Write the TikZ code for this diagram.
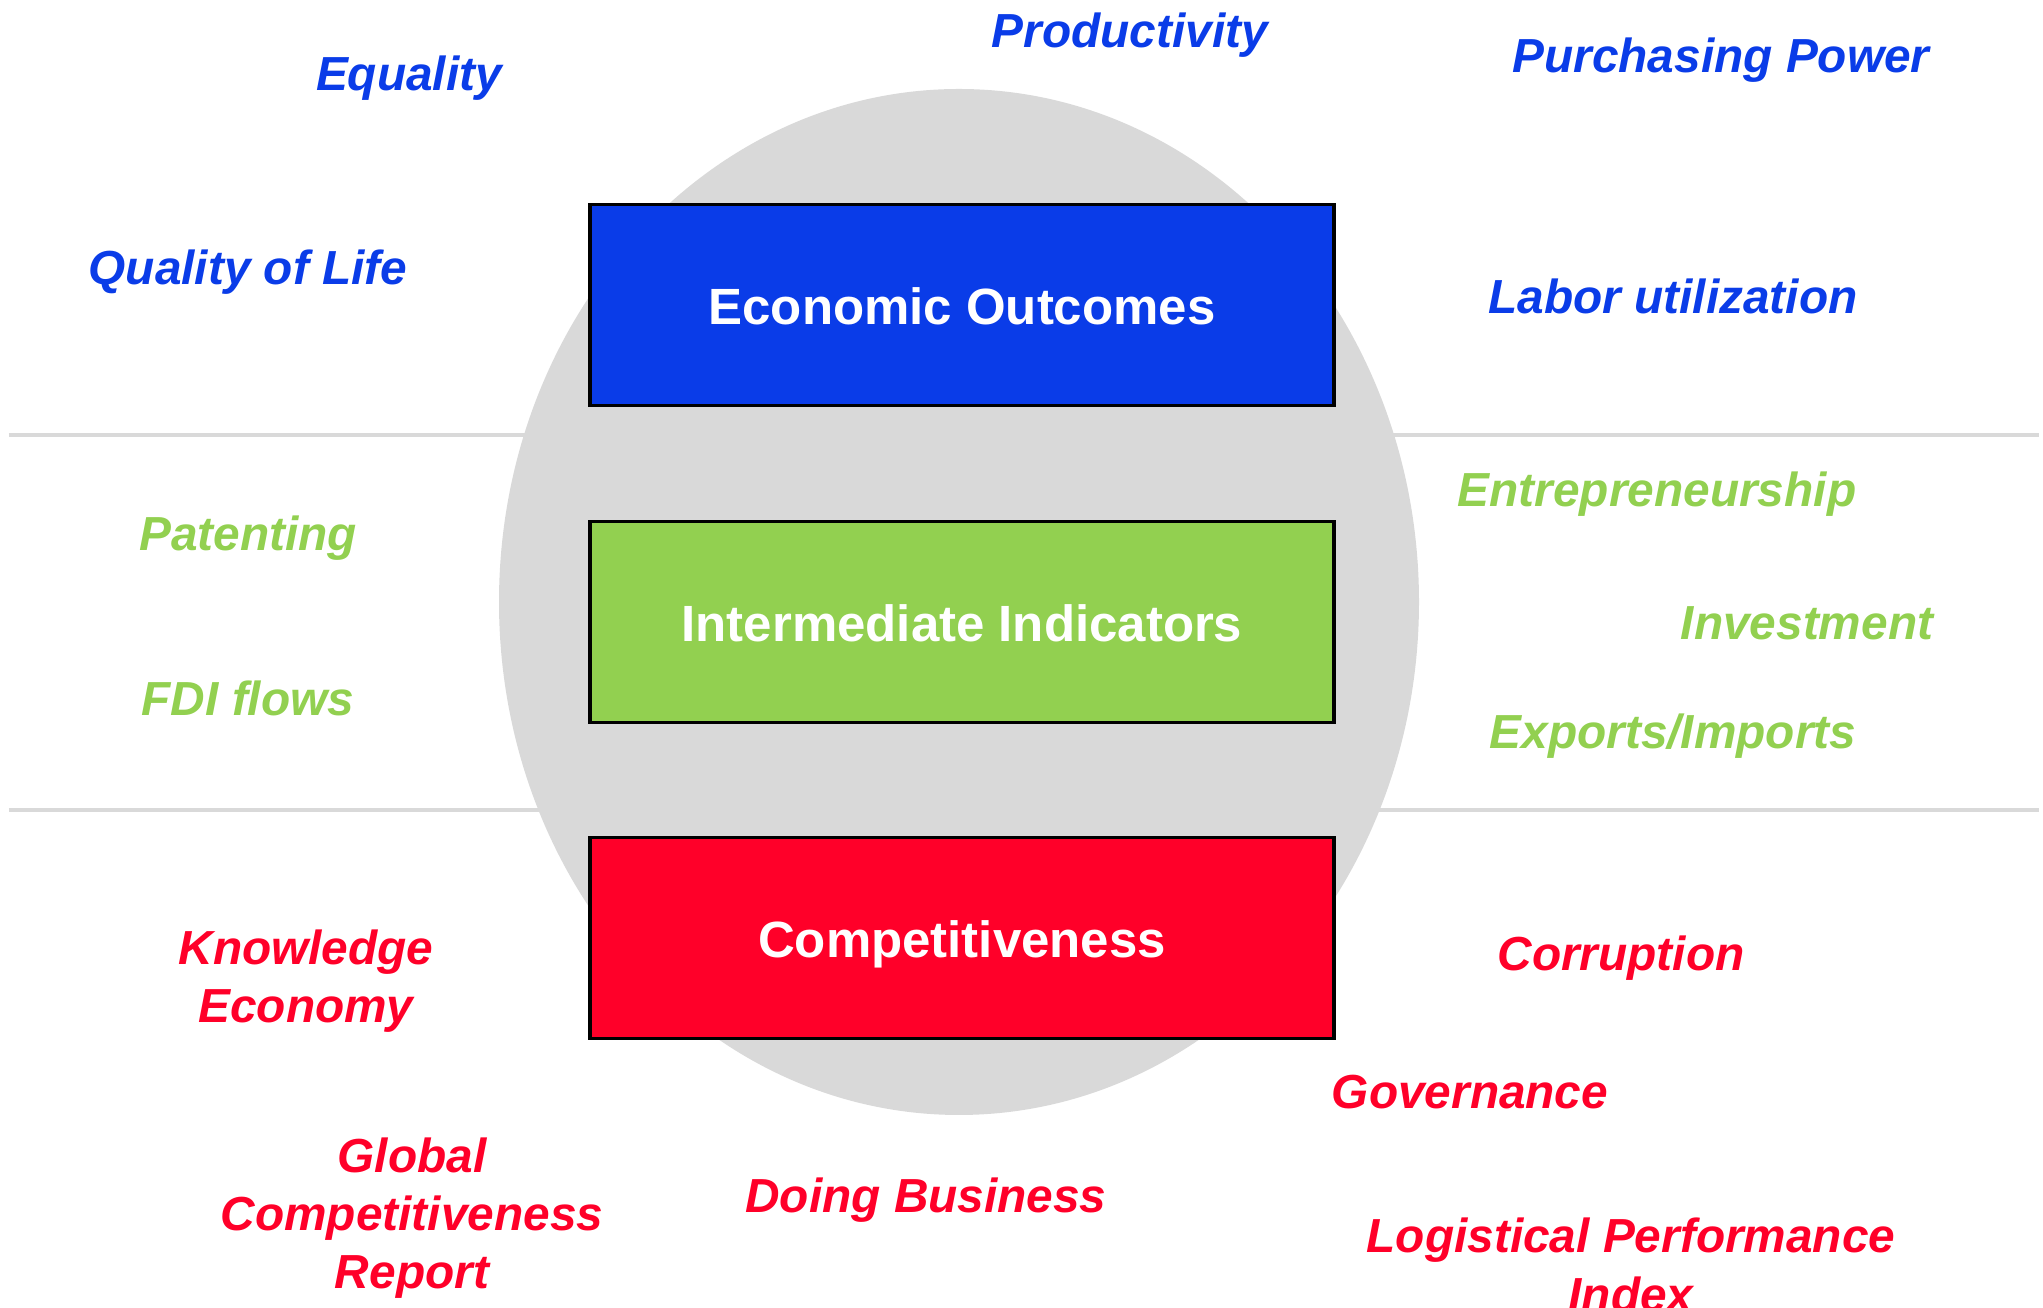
\documentclass[tikz,border=0pt]{standalone}
\usepackage{fontspec}
\setmainfont{Liberation Sans}

\definecolor{eoblue}{HTML}{0A3CE8}
\definecolor{iigreen}{HTML}{92D050}
\definecolor{cred}{HTML}{FF0029}
\definecolor{ringgray}{HTML}{D9D9D9}

\tikzset{
    tier/.style={draw=black, line width=1pt, minimum width=7.44cm, minimum height=2.01cm,
        text height=0.5cm, text depth=0.1cm,
        text=white, font=\bfseries\fontsize{14.5}{17}\selectfont},
    term/.style={font=\bfseries\itshape\fontsize{13.6}{16.6}\selectfont, align=center},
}

\begin{document}
\begin{tikzpicture}
            \useasboundingbox (0,0) rectangle (20.43,13.08);

            % tier separators, the ellipse covers their middle
            \draw[ringgray, line width=0.9pt] (0.09,8.73) -- (20.39,8.73);
            \draw[ringgray, line width=0.9pt] (0.09,4.98) -- (20.39,4.98);
            \fill[ringgray] (9.59,7.06) ellipse (4.60 and 5.13);

            \node[tier, fill=eoblue] (outcomes) at (9.62,10.03) {Economic Outcomes};
            \node[tier, fill=iigreen] (intermediate) at (9.62,6.86) {Intermediate Indicators};
            \node[tier, fill=cred] (competitiveness) at (9.62,3.70) {Competitiveness};

            % outcome measures
            \node[term, text=eoblue] (equality) at (4.09,12.30) {Equality};
            \node[term, text=eoblue] (productivity) at (11.30,12.73) {Productivity};
            \node[term, text=eoblue] (purchasing) at (17.21,12.48) {Purchasing Power};
            \node[term, text=eoblue] (quality) at (2.48,10.36) {Quality of Life};
            \node[term, text=eoblue] (labor) at (16.73,10.12) {Labor utilization};

            % intermediate measures
            \node[term, text=iigreen] (entrepreneurship) at (16.57,8.14) {Entrepreneurship};
            \node[term, text=iigreen] (patenting) at (2.48,7.70) {Patenting};
            \node[term, text=iigreen] (investment) at (18.07,6.85) {Investment};
            \node[term, text=iigreen] (fdi) at (2.48,6.10) {FDI flows};
            \node[term, text=iigreen] (trade) at (16.73,5.72) {Exports/Imports};

            % competitiveness measures
            \node[term, text=cred] (knowledge) at (3.06,3.27) {Knowledge\\Economy};
            \node[term, text=cred] (corruption) at (16.21,3.50) {Corruption};
            \node[term, text=cred] (governance) at (14.70,2.16) {Governance};
            \node[term, text=cred] (gcr) at (4.12,0.90) {Global\\Competitiveness\\Report};
            \node[term, text=cred] (doing) at (9.26,1.08) {Doing Business};
            \node[term, text=cred] (lpi) at (16.31,0.43) {Logistical Performance\\Index};
\end{tikzpicture}
\end{document}
